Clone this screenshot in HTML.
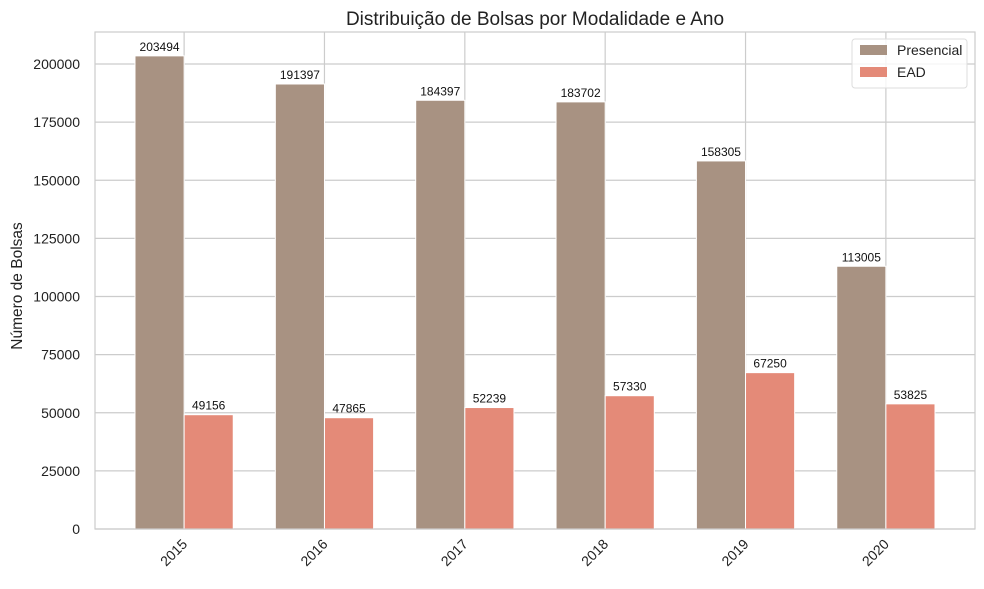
<!DOCTYPE html>
<html><head><meta charset="utf-8"><style>
body{margin:0;background:#fff;}
svg text{font-family:"Liberation Sans","DejaVu Sans",sans-serif;}
</style></head><body>
<svg id="chart" width="984" height="584" viewBox="0 0 984 584" xmlns="http://www.w3.org/2000/svg">
<rect width="984" height="584" fill="#fff"/>
<g id="grid"></g>
<g id="bars"></g>
<rect x="95" y="32" width="880" height="497" fill="none" stroke="#cccccc" stroke-width="1.2"/>
<g id="axes"></g>
<text x="535" y="25" text-anchor="middle" font-size="19" fill="#222">Distribuição de Bolsas por Modalidade e Ano</text>
<text transform="translate(22,286) rotate(-90)" text-anchor="middle" font-size="15.5" fill="#222">Número de Bolsas</text>
<g>
<rect x="852" y="39" width="115" height="49" rx="3" fill="#fff" fill-opacity="0.8" stroke="#ddd"/>
<g><rect x="860" y="45" width="27" height="10" fill="#a89282"/><text x="897" y="55" font-size="14" fill="#222">Presencial</text></g>
<g><rect x="860" y="67" width="27" height="10" fill="#e48a78"/><text x="897" y="77" font-size="14" fill="#222">EAD</text></g>
</g>
</svg>
<script>
const categories=["2015","2016","2017","2018","2019","2020"];
const presencial=[203494,191397,184397,183702,158305,113005];
const ead=[49156,47865,52239,57330,67250,53825];
const yTicks=[0,25000,50000,75000,100000,125000,150000,175000,200000];
const NS="http://www.w3.org/2000/svg";
const L=95,R=975,T=32,B=529;
const x=i=>L+(i+0.635)/(categories.length-1+1.27)*(R-L);
const y=v=>B-v/200000*465;
const bw=0.35*(x(1)-x(0));
function mk(tag,attrs,parent,txt){const e=document.createElementNS(NS,tag);for(const k in attrs)e.setAttribute(k,attrs[k]);if(txt!==undefined)e.textContent=txt;parent.appendChild(e);return e;}
const grid=document.getElementById('grid'),bars=document.getElementById('bars'),axes=document.getElementById('axes');
yTicks.forEach(t=>{
 const l=mk('line',{x1:L,x2:R,y1:y(t),y2:y(t),stroke:'#cccccc','stroke-width':1.2},grid);
 
 
 const tx=mk('text',{x:L-15,y:y(t)+5,'text-anchor':'end','font-size':14,fill:'#222'},axes,String(t));
 
 
});
categories.forEach((c,i)=>{
 const cx=x(i);
 const gl=mk('line',{x1:cx,x2:cx,y1:T,y2:B,stroke:'#cccccc','stroke-width':1.2},grid);
 
 
 const b1=mk('rect',{x:cx-bw,y:y(presencial[i]),width:bw,height:B-y(presencial[i]),fill:'#a89282',stroke:'#fff','stroke-width':1},bars);
 
 
 const b2=mk('rect',{x:cx,y:y(ead[i]),width:bw,height:B-y(ead[i]),fill:'#e48a78',stroke:'#fff','stroke-width':1},bars);
 
 
 const v1=mk('text',{x:cx-bw/2,y:y(presencial[i])-5,'text-anchor':'middle','font-size':12,fill:'#111'},bars,String(presencial[i]));
 
 
 const v2=mk('text',{x:cx+bw/2,y:y(ead[i])-5,'text-anchor':'middle','font-size':12,fill:'#111'},bars,String(ead[i]));
 
 
 const xl=mk('text',{transform:`translate(${cx+4},${B+16}) rotate(-45)`,'text-anchor':'end','font-size':14,fill:'#222'},axes,c);
 
 
});
</script>
</body></html>
